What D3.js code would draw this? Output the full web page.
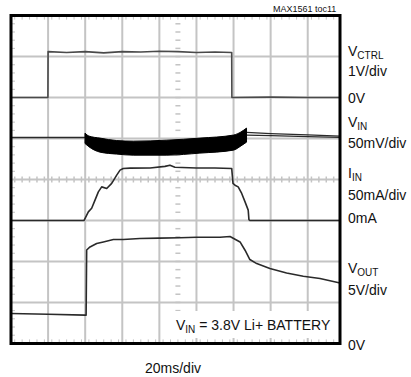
<!DOCTYPE html>
<html><head><meta charset="utf-8">
<script src="https://cdn.jsdelivr.net/npm/d3@7"></script>
<style>body{margin:0;background:#fff}svg{display:block}text{font-family:"Liberation Sans",Arial,sans-serif;fill:#111}</style>
</head><body>
<script>
// time axis in ms (20ms/div)
const timeTicks = [20,40,60,80,100,120,140,160];
const divTicks = [1,2,3,5,6,7];

// VCTRL (V), 1V/div, zero at division 6
const vctrlT = [0,19.9,20,30,40,50,60,70,80,90,100,110,119,119.1,140,160,177.4];
const vctrlV = [0,0,1.12,1.1,1.12,1.09,1.12,1.11,1.13,1.12,1.1,1.11,1.1,0,0.01,0,0];

// VIN (mV deviation), 50mV/div, zero at division 5
const vinT = [0,39.9];
const vinV = [1.3,1.3];
const bandT = [39.9,42,48,57,66,84,101.9,119.9,124,127];
const bandTop = [6.6,3,0.5,-2.5,-3.2,-2,0.5,4.2,8,12.7];
const bandBot = [-6,-10,-16.6,-19,-20.3,-20.3,-17.8,-14.2,-9,-4.4];
const vinAfterT = [127,140,160,177.4];
const vinAfterA = [7.5,6,4.5,3];
const vinAfterB = [4.2,3.5,2.3,1.3];

// IIN (mA), 50mA/div, zero at division 3
const iinT = [0,39.4,41.7,43.5,45.3,47.1,48.9,51.6,54.3,57,58.8,60.5,64.2,75,83,85.7,88.4,100,110,119,119.7,120.8,122.5,124.4,126.2,127.9,128.3,128.8,177.4];
const iinV = [0,0,10.5,15,24.8,34.9,41,39,45.2,55.3,61.4,63.5,63.9,64,66,67.5,65,64,64,63.5,45.2,43,41,33,22.7,12.6,1,0,0];

// VOUT (V), 5V/div, zero at division 0
const voutT = [0,20,39.9,40.5,40.8,42.6,46.2,49.8,55.2,60.5,69.5,80,91,100,112.7,118.1,123.5,126.2,128.8,132.5,139.6,148.6,157.6,166.6,177.4];
const voutV = [3.64,3.55,3.45,3.45,11.4,11.77,12.19,12.38,12.67,12.67,12.8,12.85,12.9,12.95,12.95,13.05,12.38,11.37,10.23,9.74,9.13,8.6,8.19,7.91,7.37];

const W=411,H=377;
const svg=d3.select("body").append("svg").attr("width",W).attr("height",H);
const x=d3.scaleLinear().domain([0,177.4]).range([11,340]);
const yd=d3.scaleLinear().domain([0,8]).range([343.4,15.6]);
const y=(zero,perDiv)=>v=>yd(zero+v/perDiv);
const yC=y(6,1), yI=y(5,50), yA=y(3,50), yO=y(0,5);

const grid=svg.append("g").attr("stroke","#c4c4c4").attr("stroke-width",2);
grid.selectAll(".v").data(timeTicks).join("line").attr("x1",d=>x(d)).attr("x2",d=>x(d)).attr("y1",yd(8)).attr("y2",yd(0));
grid.selectAll(".h").data(divTicks).join("line").attr("x1",x(0)).attr("x2",x(177.4)).attr("y1",d=>yd(d)).attr("y2",d=>yd(d));
// centre horizontal with minor ticks
grid.append("line").attr("x1",x(0)).attr("x2",x(177.4)).attr("y1",yd(4)).attr("y2",yd(4));
const minorT=d3.range(2,177,4);
grid.selectAll(".mt").data(minorT).join("line").attr("stroke-width",1.5).attr("x1",d=>x(d)).attr("x2",d=>x(d)).attr("y1",yd(4)-3).attr("y2",yd(4)+3);
// centre vertical dashes
const minorD=d3.range(0.2,8,0.2);
grid.selectAll(".md").data(minorD).join("line").attr("stroke-width",1.5).attr("x1",x(90)-2.5).attr("x2",x(90)+2.5).attr("y1",d=>yd(d)).attr("y2",d=>yd(d));
// frame edge ticks
grid.selectAll(".lt").data(minorD).join("line").attr("stroke-width",1).attr("x1",x(0)).attr("x2",x(0)+4).attr("y1",d=>yd(d)).attr("y2",d=>yd(d));
grid.selectAll(".tt").data(minorT).join("line").attr("stroke-width",1).attr("x1",d=>x(d)).attr("x2",d=>x(d)).attr("y1",yd(8)).attr("y2",yd(8)+4);
grid.selectAll(".bt").data(minorT).join("line").attr("stroke-width",1).attr("x1",d=>x(d)).attr("x2",d=>x(d)).attr("y1",yd(0)).attr("y2",yd(0)-4);

// note box
svg.append("rect").attr("x",172).attr("y",311).attr("width",165).attr("height",27).attr("fill","#fff");

const line=(ys)=>d3.line().x(d=>x(d[0])).y(d=>ys(d[1]));
const tr=svg.append("g").attr("fill","none").attr("stroke","#2a2a2a").attr("stroke-width",1.6).attr("stroke-linejoin","round");
tr.append("path").attr("stroke","#4a4a4a").attr("d",line(yC)(d3.zip(vctrlT,vctrlV)));
tr.append("path").attr("d",line(yI)(d3.zip(vinT,vinV)));
tr.append("path").attr("stroke-width",1.2).attr("d",line(yI)(d3.zip(vinAfterT,vinAfterA)));
tr.append("path").attr("stroke-width",1.2).attr("d",line(yI)(d3.zip(vinAfterT,vinAfterB)));
tr.append("path").attr("d",line(yA)(d3.zip(iinT,iinV)));
tr.append("path").attr("d",line(yO)(d3.zip(voutT,voutV)));
const area=d3.area().x(d=>x(d[0])).y0(d=>yI(d[2])).y1(d=>yI(d[1])).curve(d3.curveMonotoneX);
svg.append("path").attr("fill","#000").attr("stroke","#000").attr("stroke-width",1).attr("d",area(d3.zip(bandT,bandTop,bandBot)));

// frame
svg.append("rect").attr("x",11).attr("y",15.5).attr("width",329).attr("height",328).attr("fill","none").attr("stroke","#000").attr("stroke-width",3);

// labels
const lab=(xx,yy,main,sub,size)=>{
  const t=svg.append("text").attr("x",xx).attr("y",yy).attr("font-size",size||14);
  t.append("tspan").text(main);
  if(sub) t.append("tspan").attr("font-size",10).attr("dy",3).text(sub);
  return t;
};
lab(348,56,"V","CTRL");
lab(348,76,"1V/div");
lab(348,103,"0V");
lab(348,127,"V","IN");
lab(348,148,"50mV/div");
lab(348,178,"I","IN");
lab(348,200,"50mA/div");
lab(348,223,"0mA");
lab(348,273,"V","OUT");
lab(348,295,"5V/div");
lab(348,350,"0V");
lab(145,373,"20ms/div");
svg.append("text").attr("x",273).attr("y",11.5).attr("font-size",9).text("MAX1561 toc11");
const n=svg.append("text").attr("x",176).attr("y",330).attr("font-size",14);
n.append("tspan").text("V");
n.append("tspan").attr("font-size",10).attr("dy",3).text("IN");
n.append("tspan").attr("dy",-3).text(" = 3.8V Li+ BATTERY");
</script>
</body></html>
